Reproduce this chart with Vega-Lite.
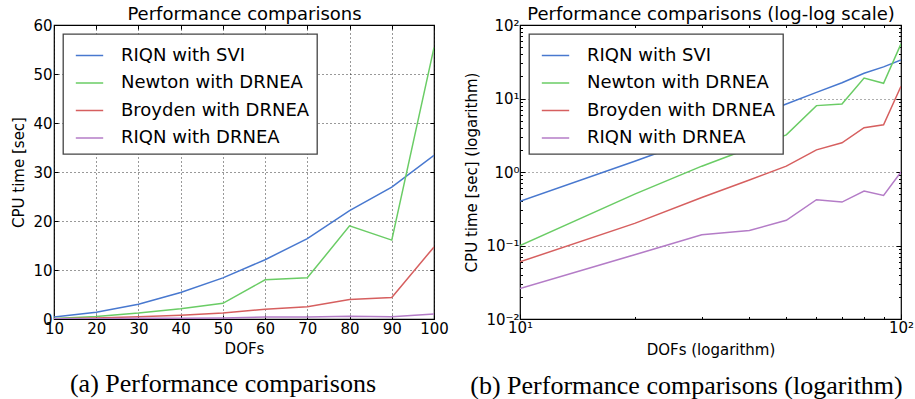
{
  "$schema": "https://vega.github.io/schema/vega-lite/v6.json",
  "padding": {"left": 11, "top": 4, "right": 0, "bottom": 0},
  "background": "white",
  "datasets": {
    "perf": [
      {"dofs": 10, "method": "RIQN with SVI", "time": 0.4},
      {"dofs": 20, "method": "RIQN with SVI", "time": 1.4},
      {"dofs": 30, "method": "RIQN with SVI", "time": 3.0},
      {"dofs": 40, "method": "RIQN with SVI", "time": 5.4},
      {"dofs": 50, "method": "RIQN with SVI", "time": 8.4},
      {"dofs": 60, "method": "RIQN with SVI", "time": 12.1},
      {"dofs": 70, "method": "RIQN with SVI", "time": 16.4},
      {"dofs": 80, "method": "RIQN with SVI", "time": 22.1},
      {"dofs": 90, "method": "RIQN with SVI", "time": 26.9},
      {"dofs": 100, "method": "RIQN with SVI", "time": 33.4},
      {"dofs": 10, "method": "Newton with DRNEA", "time": 0.1},
      {"dofs": 20, "method": "Newton with DRNEA", "time": 0.5},
      {"dofs": 30, "method": "Newton with DRNEA", "time": 1.2},
      {"dofs": 40, "method": "Newton with DRNEA", "time": 2.1},
      {"dofs": 50, "method": "Newton with DRNEA", "time": 3.2},
      {"dofs": 60, "method": "Newton with DRNEA", "time": 8.0},
      {"dofs": 70, "method": "Newton with DRNEA", "time": 8.4},
      {"dofs": 80, "method": "Newton with DRNEA", "time": 19.0},
      {"dofs": 90, "method": "Newton with DRNEA", "time": 16.1},
      {"dofs": 100, "method": "Newton with DRNEA", "time": 55.4},
      {"dofs": 10, "method": "Broyden with DRNEA", "time": 0.06},
      {"dofs": 20, "method": "Broyden with DRNEA", "time": 0.2},
      {"dofs": 30, "method": "Broyden with DRNEA", "time": 0.45},
      {"dofs": 40, "method": "Broyden with DRNEA", "time": 0.78},
      {"dofs": 50, "method": "Broyden with DRNEA", "time": 1.2},
      {"dofs": 60, "method": "Broyden with DRNEA", "time": 2.0},
      {"dofs": 70, "method": "Broyden with DRNEA", "time": 2.5},
      {"dofs": 80, "method": "Broyden with DRNEA", "time": 4.0},
      {"dofs": 90, "method": "Broyden with DRNEA", "time": 4.4},
      {"dofs": 100, "method": "Broyden with DRNEA", "time": 14.7},
      {"dofs": 10, "method": "RIQN with DRNEA", "time": 0.026},
      {"dofs": 20, "method": "RIQN with DRNEA", "time": 0.075},
      {"dofs": 30, "method": "RIQN with DRNEA", "time": 0.14},
      {"dofs": 40, "method": "RIQN with DRNEA", "time": 0.16},
      {"dofs": 50, "method": "RIQN with DRNEA", "time": 0.22},
      {"dofs": 60, "method": "RIQN with DRNEA", "time": 0.42},
      {"dofs": 70, "method": "RIQN with DRNEA", "time": 0.39},
      {"dofs": 80, "method": "RIQN with DRNEA", "time": 0.55},
      {"dofs": 90, "method": "RIQN with DRNEA", "time": 0.48},
      {"dofs": 100, "method": "RIQN with DRNEA", "time": 1.0}
    ]
  },
  "data": {"name": "perf"},
  "spacing": 15,
  "resolve": {"legend": {"color": "independent"}},
  "hconcat": [
    {
      "width": 380,
      "height": 294,
      "title": {"text": "(a) Performance comparisons", "orient": "bottom", "dx": -21},
      "resolve": {"axis": {"x": "independent", "y": "independent"}},
      "layer": [
        {
          "mark": {"type": "line", "strokeWidth": 1.5, "clip": true},
          "encoding": {
            "x": {"field": "dofs", "type": "quantitative", "scale": {"domain": [10, 100], "nice": false, "zero": false},
                  "axis": {"orient": "bottom", "values": [10, 20, 30, 40, 50, 60, 70, 80, 90, 100], "title": "DOFs", "titleFontSize": 15, "titlePadding": 5}},
            "y": {"field": "time", "type": "quantitative", "scale": {"domain": [0, 60], "nice": false},
                  "axis": {"orient": "left", "values": [0, 10, 20, 30, 40, 50, 60], "title": "CPU time [sec]", "titleFontSize": 15, "titlePadding": 6}},
            "color": {"field": "method", "type": "nominal",
                      "scale": {"domain": ["RIQN with SVI", "Newton with DRNEA", "Broyden with DRNEA", "RIQN with DRNEA"],
                                "range": ["#4878CF", "#6ACC65", "#D65F5F", "#B47CC7"]},
                      "legend": {"title": null}}
          }
        },
        {
          "mark": {"type": "line", "opacity": 0},
          "encoding": {
            "x": {"field": "dofs", "type": "quantitative",
                  "axis": {"orient": "top", "values": [10, 20, 30, 40, 50, 60, 70, 80, 90, 100], "labels": false, "grid": false, "title": "Performance comparisons", "titleFontSize": 18, "titlePadding": 1}},
            "y": {"field": "time", "type": "quantitative",
                  "axis": {"orient": "right", "values": [0, 10, 20, 30, 40, 50, 60], "labels": false, "grid": false, "title": null}},
            "detail": {"field": "method"}
          }
        }
      ]
    },
    {
      "width": 381,
      "height": 294,
      "title": {"text": "(b) Performance comparisons (logarithm)", "orient": "bottom", "dx": -24},
      "resolve": {"axis": {"x": "independent", "y": "independent"}},
      "layer": [
        {
          "mark": {"type": "line", "strokeWidth": 1.5, "clip": true},
          "encoding": {
            "x": {"field": "dofs", "type": "quantitative", "scale": {"type": "log", "domain": [10, 100], "nice": false},
                  "axis": {"orient": "bottom", "values": [10, 20, 30, 40, 50, 60, 70, 80, 90, 100], "grid": false, "labelOverlap": false,
                           "labelExpr": "datum.value == 10 ? '10¹' : datum.value == 100 ? '10²' : ''",
                           "tickSize": {"condition": {"test": "datum.value == 10 || datum.value == 100", "value": -5}, "value": -2.5},
                           "title": "DOFs (logarithm)", "titleFontSize": 15, "titlePadding": 5}},
            "y": {"field": "time", "type": "quantitative", "scale": {"type": "log", "domain": [0.01, 100], "nice": false},
                  "axis": {"orient": "left", "values": [0.01, 0.02, 0.03, 0.04, 0.05, 0.06, 0.07, 0.08, 0.09, 0.1, 0.2, 0.3, 0.4, 0.5, 0.6, 0.7, 0.8, 0.9, 1, 2, 3, 4, 5, 6, 7, 8, 9, 10, 20, 30, 40, 50, 60, 70, 80, 90, 100],
                           "labelOverlap": false,
                           "labelExpr": "datum.value == 100 ? '10²' : datum.value == 10 ? '10¹' : datum.value == 1 ? '10⁰' : datum.value == 0.1 ? '10⁻¹' : datum.value == 0.01 ? '10⁻²' : ''",
                           "tickSize": {"condition": {"test": "indexof([0.01, 0.1, 1, 10, 100], datum.value) >= 0", "value": -5}, "value": -2.5},
                           "gridOpacity": {"condition": {"test": "indexof([0.01, 0.1, 1, 10, 100], datum.value) >= 0", "value": 0.8}, "value": 0},
                           "title": "CPU time [sec] (logarithm)", "titleFontSize": 15, "titlePadding": 6}},
            "color": {"field": "method", "type": "nominal",
                      "scale": {"domain": ["RIQN with SVI", "Newton with DRNEA", "Broyden with DRNEA", "RIQN with DRNEA"],
                                "range": ["#4878CF", "#6ACC65", "#D65F5F", "#B47CC7"]},
                      "legend": {"title": null}}
          }
        },
        {
          "mark": {"type": "line", "opacity": 0},
          "encoding": {
            "x": {"field": "dofs", "type": "quantitative",
                  "axis": {"orient": "top", "values": [10, 20, 30, 40, 50, 60, 70, 80, 90, 100], "labels": false, "grid": false,
                           "tickSize": {"condition": {"test": "datum.value == 10 || datum.value == 100", "value": -5}, "value": -2.5},
                           "title": "Performance comparisons (log-log scale)", "titleFontSize": 18, "titlePadding": 1}},
            "y": {"field": "time", "type": "quantitative",
                  "axis": {"orient": "right", "values": [0.01, 0.02, 0.03, 0.04, 0.05, 0.06, 0.07, 0.08, 0.09, 0.1, 0.2, 0.3, 0.4, 0.5, 0.6, 0.7, 0.8, 0.9, 1, 2, 3, 4, 5, 6, 7, 8, 9, 10, 20, 30, 40, 50, 60, 70, 80, 90, 100],
                           "labels": false, "grid": false, "title": null,
                           "tickSize": {"condition": {"test": "indexof([0.01, 0.1, 1, 10, 100], datum.value) >= 0", "value": -5}, "value": -2.5}}},
            "detail": {"field": "method"}
          }
        }
      ]
    }
  ],
  "config": {
    "font": "DejaVu Sans",
    "view": {"stroke": "black", "strokeWidth": 1.2},
    "axis": {
      "domain": false,
      "tickColor": "black",
      "tickSize": -4,
      "tickWidth": 1,
      "labelFont": "DejaVu Sans",
      "labelFontSize": 15,
      "labelColor": "black",
      "labelPadding": 6,
      "titleFont": "DejaVu Sans",
      "titleFontWeight": "normal",
      "titleColor": "black",
      "gridColor": "black",
      "gridDash": [1, 3],
      "gridOpacity": 0.8,
      "gridWidth": 1
    },
    "axisX": {"labelFlush": false},
    "legend": {
      "orient": "top-left",
      "offset": 9,
      "strokeColor": "#444",
      "strokeWidth": 1.3,
      "fillColor": "white",
      "padding": 7,
      "symbolOffset": 5,
      "symbolType": "stroke",
      "symbolSize": 750,
      "symbolStrokeWidth": 1.5,
      "labelFont": "DejaVu Sans",
      "labelFontSize": 18,
      "labelColor": "black",
      "labelOffset": 17,
      "rowPadding": 3.5,
      "labelLimit": 400
    },
    "title": {
      "font": "Liberation Serif",
      "fontSize": 26,
      "fontWeight": "normal",
      "color": "black",
      "offset": 15
    }
  }
}
